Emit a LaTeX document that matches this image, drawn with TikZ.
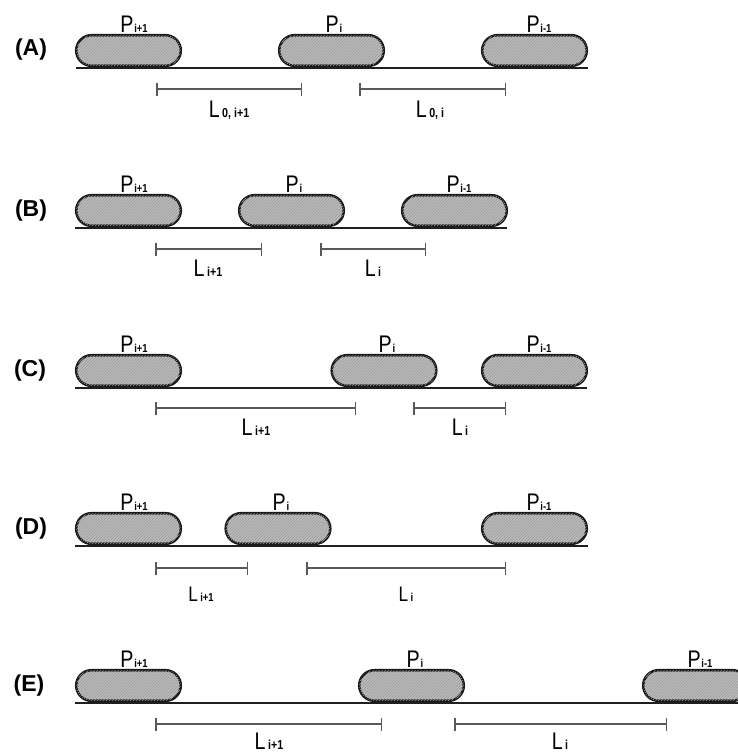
\documentclass[tikz,border=0pt]{standalone}
\usepackage{fontspec}
\setmainfont{Liberation Sans}
\newfontfamily\nf[FakeStretch=0.82]{Liberation Sans}
\usetikzlibrary{arrows.meta,patterns}
\newcommand\plab[1]{{\nf\fontsize{24}{24}\selectfont P}\kern0.8pt{\nf\bfseries\fontsize{11.5}{11.5}\selectfont #1}}
\newcommand\llab[1]{{\nf\fontsize{24}{24}\selectfont L}\kern2.5pt{\nf\bfseries\fontsize{13}{13}\selectfont #1}}
\newcommand\llabs[1]{{\nf\fontsize{21}{21}\selectfont L}\kern2.5pt{\nf\bfseries\fontsize{11.5}{11.5}\selectfont #1}}
\tikzset{
  capsule/.style={draw=black!90, line width=2.6pt, fill=black!27,
    postaction={pattern=north east lines, pattern color=black!38},
    minimum width=104.5pt, minimum height=30.5pt, inner sep=0pt,
    rounded corners=15.2pt},
  ground/.style={draw=black!88, line width=2.8pt},
  dimbar/.style={draw=black!65, line width=1.5pt, {Bar[width=13pt]}-{Bar[width=13pt]}},
  rowlab/.style={font=\bfseries\fontsize{23}{23}\selectfont, inner sep=0pt},
  ptext/.style={anchor=base, inner sep=0pt},
  ltext/.style={anchor=base, inner sep=0pt}
}
\begin{document}
\begin{tikzpicture}[x=1pt,y=-1pt]
\useasboundingbox (0,0) rectangle (738,753);
\clip (0,0) rectangle (738,753);
% ---------- (A)
\node[rowlab] (labA) at (31,50) {(A)};
\node[capsule] (A1) at (128.5,50.5) {};
\node[capsule] (A2) at (331.5,50.5) {};
\node[capsule] (A3) at (534.5,50.5) {};
\coordinate (Aa) at (76,68); \coordinate (Ab) at (588,68);
\draw[ground] (Aa) -- (Ab);
\node[ptext] (pA1) at (134,32) {\plab{i+1}};
\node[ptext] (pA2) at (334,32) {\plab{i}};
\node[ptext] (pA3) at (539,32) {\plab{i-1}};
\coordinate (Ad1) at (156,89); \coordinate (Ad2) at (302,89);
\coordinate (Ad3) at (359,89); \coordinate (Ad4) at (506,89);
\draw[dimbar] (Ad1) -- (Ad2);
\draw[dimbar] (Ad3) -- (Ad4);
\node[ltext] (lA1) at (229,117) {\llab{0, i+1}};
\node[ltext] (lA2) at (430,117) {\llab{0, i}};
% ---------- (B)
\node[rowlab] (labB) at (31,211) {(B)};
\node[capsule] (B1) at (128.5,210.5) {};
\node[capsule] (B2) at (291.5,210.5) {};
\node[capsule] (B3) at (454.5,210.5) {};
\coordinate (Ba) at (75,228); \coordinate (Bb) at (507,228);
\draw[ground] (Ba) -- (Bb);
\node[ptext] (pB1) at (134,192) {\plab{i+1}};
\node[ptext] (pB2) at (294,192) {\plab{i}};
\node[ptext] (pB3) at (459,192) {\plab{i-1}};
\coordinate (Bd1) at (155,249); \coordinate (Bd2) at (262,249);
\coordinate (Bd3) at (320,249); \coordinate (Bd4) at (426,249);
\draw[dimbar] (Bd1) -- (Bd2);
\draw[dimbar] (Bd3) -- (Bd4);
\node[ltext] (lB1) at (208,276) {\llab{i+1}};
\node[ltext] (lB2) at (373,276) {\llab{i}};
% ---------- (C)
\node[rowlab] (labC) at (30,371) {(C)};
\node[capsule] (C1) at (128.5,370.5) {};
\node[capsule] (C2) at (384,370.5) {};
\node[capsule] (C3) at (534.5,370.5) {};
\coordinate (Ca) at (75,388); \coordinate (Cb) at (587,388);
\draw[ground] (Ca) -- (Cb);
\node[ptext] (pC1) at (134,352) {\plab{i+1}};
\node[ptext] (pC2) at (387,352) {\plab{i}};
\node[ptext] (pC3) at (539,352) {\plab{i-1}};
\coordinate (Cd1) at (155,408); \coordinate (Cd2) at (356,408);
\coordinate (Cd3) at (413,408); \coordinate (Cd4) at (506,408);
\draw[dimbar] (Cd1) -- (Cd2);
\draw[dimbar] (Cd3) -- (Cd4);
\node[ltext] (lC1) at (256,435) {\llab{i+1}};
\node[ltext] (lC2) at (460,435) {\llab{i}};
% ---------- (D)
\node[rowlab] (labD) at (31,529) {(D)};
\node[capsule] (D1) at (128.5,528.5) {};
\node[capsule] (D2) at (278,528.5) {};
\node[capsule] (D3) at (534.5,528.5) {};
\coordinate (Da) at (75,546); \coordinate (Db) at (588,546);
\draw[ground] (Da) -- (Db);
\node[ptext] (pD1) at (134,510) {\plab{i+1}};
\node[ptext] (pD2) at (281,510) {\plab{i}};
\node[ptext] (pD3) at (539,510) {\plab{i-1}};
\coordinate (Dd1) at (155,568); \coordinate (Dd2) at (248,568);
\coordinate (Dd3) at (306,568); \coordinate (Dd4) at (506,568);
\draw[dimbar] (Dd1) -- (Dd2);
\draw[dimbar] (Dd3) -- (Dd4);
\node[ltext] (lD1) at (201,601) {\llabs{i+1}};
\node[ltext] (lD2) at (406,601) {\llabs{i}};
% ---------- (E)
\node[rowlab] (labE) at (29,686) {(E)};
\node[capsule] (E1) at (128.5,685.5) {};
\node[capsule] (E2) at (411.5,685.5) {};
\node[capsule] (E3) at (695.5,685.5) {};
\coordinate (Ea) at (75,703); \coordinate (Eb) at (740,703);
\draw[ground] (Ea) -- (Eb);
\node[ptext] (pE1) at (134,667) {\plab{i+1}};
\node[ptext] (pE2) at (415,667) {\plab{i}};
\node[ptext] (pE3) at (700,667) {\plab{i-1}};
\coordinate (Ed1) at (155,724); \coordinate (Ed2) at (382,724);
\coordinate (Ed3) at (454,724); \coordinate (Ed4) at (667,724);
\draw[dimbar] (Ed1) -- (Ed2);
\draw[dimbar] (Ed3) -- (Ed4);
\node[ltext] (lE1) at (269,749) {\llab{i+1}};
\node[ltext] (lE2) at (560,749) {\llab{i}};
\end{tikzpicture}
\end{document}
